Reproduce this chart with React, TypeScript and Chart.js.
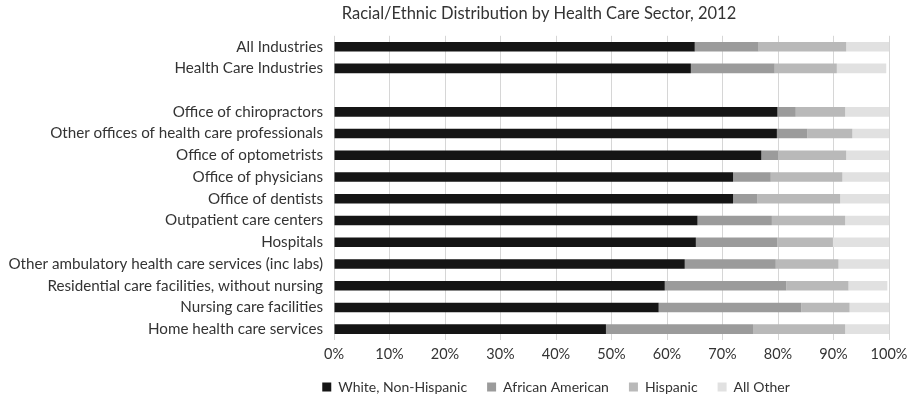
import React, { useEffect, useRef } from "react";
import { Chart, registerables } from "chart.js";

Chart.register(...registerables);

// Sectors, top to bottom; the empty entry leaves a gap after the two totals.
const sectors = [
  "All Industries",
  "Health Care Industries",
  "",
  "Office of chiropractors",
  "Other offices of health care professionals",
  "Office of optometrists",
  "Office of physicians",
  "Office of dentists",
  "Outpatient care centers",
  "Hospitals",
  "Other ambulatory health care services (inc labs)",
  "Residential care facilities, without nursing",
  "Nursing care facilities",
  "Home health care services",
];

// Share of workers (%) in each group, per sector.
const whiteNonHispanic = [65.0, 64.3, null, 79.9, 79.8, 77.0, 71.9, 71.9, 65.5, 65.2, 63.2, 59.6, 58.5, 49.0];
const africanAmerican = [11.5, 15.1, null, 3.3, 5.5, 3.0, 6.8, 4.4, 13.4, 14.7, 16.4, 21.9, 25.7, 26.5];
const hispanic = [15.8, 11.2, null, 8.9, 8.1, 12.3, 12.9, 14.9, 13.2, 10.0, 11.3, 11.2, 8.7, 16.6];
const allOther = [7.7, 8.9, null, 7.9, 6.6, 7.7, 8.4, 8.8, 7.9, 10.1, 9.1, 7.0, 7.1, 7.9];

const xTicks = [0, 10, 20, 30, 40, 50, 60, 70, 80, 90, 100];

const FONT = "Lato, 'DejaVu Sans', sans-serif";
const TEXT = "#333333";
const LEGEND_FONT = 14;
const LEGEND_PAD = 20;

// Places the title and legend over their columns instead of the canvas middle,
// and gives the x tick labels room to draw below the plot.
const boxPlacement = {
  id: "boxPlacement",
  afterLayout(chart: any) {
    const t = chart.titleBlock;
    if (t) {
      const dx = 539 - (t.left + t.right) / 2;
      t.left += dx;
      t.right += dx;
    }
    const lg = chart.legend;
    if (lg) {
      const dx = 556 - (lg.left + lg.right) / 2;
      lg.left += dx;
      lg.right += dx;
      const dy = 387 - (lg.top + LEGEND_PAD + LEGEND_FONT / 2);
      lg.top += dy;
      lg.bottom += dy;
    }
    const x = chart.scales.x;
    if (x) x.bottom = x.top + 30;
  },
};

export default function App() {
  const ref = useRef<HTMLCanvasElement>(null);

  useEffect(() => {
    if (!ref.current) return;
    const chart = new Chart(ref.current, {
      type: "bar",
      data: {
        labels: sectors,
        datasets: [
          { label: "White, Non-Hispanic", data: whiteNonHispanic, backgroundColor: "#151515" },
          { label: "African American", data: africanAmerican, backgroundColor: "#9b9b9b" },
          { label: "Hispanic", data: hispanic, backgroundColor: "#b9b9b9" },
          { label: "All Other", data: allOther, backgroundColor: "#e1e1e1" },
        ],
      },
      options: {
        indexAxis: "y",
        animation: false,
        responsive: false,
        maintainAspectRatio: false,
        datasets: { bar: { categoryPercentage: 1, barPercentage: 0.44 } },
        layout: { padding: { left: 0, right: 29, top: 0, bottom: 0 } },
        scales: {
          x: {
            stacked: true,
            min: 0,
            max: 100,
            afterBuildTicks: (scale: any) => {
              scale.ticks = xTicks.map((v) => ({ value: v }));
            },
            afterFit: (scale: any) => {
              // legend box height is font + padding + 10; plot ends at y = 340
              scale.height = 399 - 340 - (LEGEND_FONT + LEGEND_PAD + 10);
            },
            ticks: {
              callback: (v: any) => v + "%",
              color: TEXT,
              font: { family: FONT, size: 14.5 },
              padding: 6,
              maxRotation: 0,
            },
            grid: { color: "#d6d6d6", drawTicks: false },
            border: { display: false },
          },
          y: {
            stacked: true,
            afterFit: (scale: any) => {
              scale.width = 334;
            },
            ticks: {
              color: TEXT,
              font: { family: FONT, size: 15.2 },
              padding: 11,
              autoSkip: false,
            },
            grid: { display: false, drawTicks: false },
            border: { display: false },
          },
        },
        plugins: {
          title: {
            display: true,
            text: "Racial/Ethnic Distribution by Health Care Sector, 2012",
            color: TEXT,
            font: { family: FONT, size: 16.5, weight: "normal" },
            padding: { top: 4, bottom: 12 },
          },
          legend: {
            position: "bottom",
            labels: {
              color: TEXT,
              font: { family: FONT, size: LEGEND_FONT },
              boxWidth: 9,
              boxHeight: 9,
              padding: LEGEND_PAD,
            },
          },
          tooltip: { enabled: false },
        },
      },
      plugins: [boxPlacement],
    });
    return () => chart.destroy();
  }, []);

  return (
    <div style={{ position: "fixed", left: 0, top: 0, width: 918, height: 399, background: "#fff" }}>
      <canvas ref={ref} width={918} height={399} style={{ display: "block" }} />
    </div>
  );
}
